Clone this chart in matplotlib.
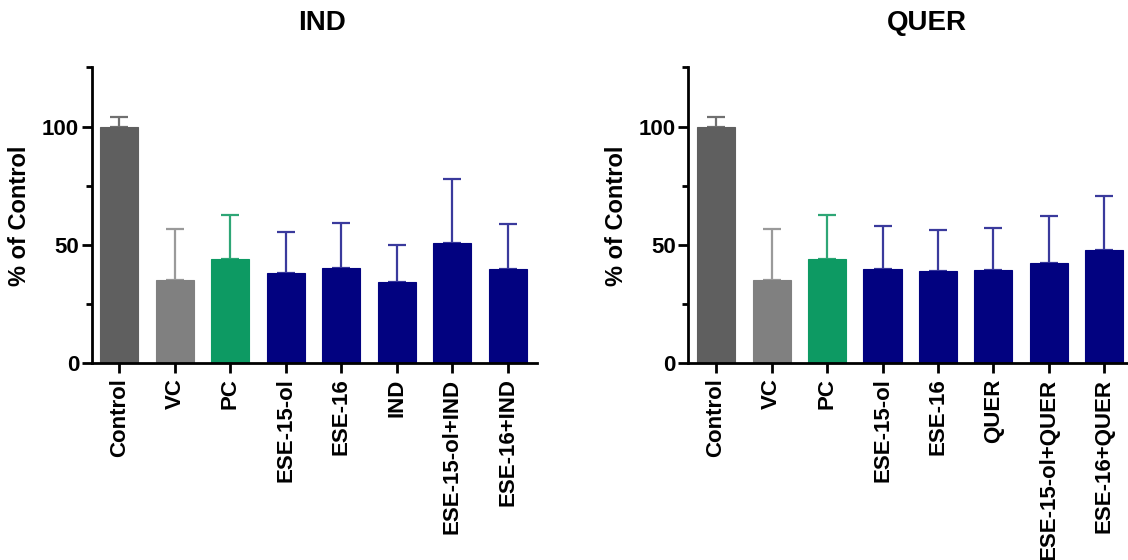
import matplotlib
matplotlib.use("Agg")
import matplotlib.pyplot as plt
from matplotlib.ticker import MultipleLocator

plt.rcParams['font.family'] = ['Liberation Sans', 'DejaVu Sans']
plt.rcParams['font.weight'] = 'bold'

cats_ind = ["Control", "VC", "PC", "ESE-15-ol", "ESE-16", "IND", "ESE-15-ol+IND", "ESE-16+IND"]
mean_ind = [100, 35.2, 44.2, 38.2, 40.1, 34.2, 50.8, 39.7]
sd_ind = [4.0, 21.4, 18.6, 17.2, 19.3, 15.8, 27.0, 19.2]

cats_quer = ["Control", "VC", "PC", "ESE-15-ol", "ESE-16", "QUER", "ESE-15-ol+QUER", "ESE-16+QUER"]
mean_quer = [100, 35.2, 44.2, 40.0, 39.0, 39.3, 42.3, 47.7]
sd_quer = [4.0, 21.4, 18.6, 18.2, 17.2, 17.9, 19.8, 23.1]

bar_colors = ["#5f5f5f", "#808080", "#0d9a63"] + ["#020280"] * 5
err_colors = ["#707070", "#9a9a9a", "#2ea676"] + ["#3a3a9c"] * 5

fig = plt.figure(figsize=(11.28, 5.6), dpi=100)

def draw(ax, cats, means, sds, title, tx):
    x = list(range(len(cats)))
    for i in x:
        ax.bar(i, means[i], width=0.685, color=bar_colors[i], edgecolor=bar_colors[i],
               linewidth=0.8, zorder=2)
        ax.errorbar(i, means[i], yerr=[[0], [sds[i]]], fmt='none', ecolor=err_colors[i],
                    elinewidth=1.6, capsize=6.5, capthick=1.6, zorder=1)
    ax.set_xlim(-0.5, 7.52)
    ax.set_ylim(0, 125)
    ax.set_xticks(x)
    ax.set_xticklabels(cats, rotation=90, fontsize=16, fontweight='bold')
    ax.set_yticks([0, 50, 100])
    ax.yaxis.set_minor_locator(MultipleLocator(25))
    ax.tick_params(axis='y', which='major', labelsize=16, length=7, width=2, pad=2)
    ax.tick_params(axis='y', which='minor', length=4, width=2)
    ax.tick_params(axis='x', which='major', length=7, width=2, pad=4)
    for lab in ax.get_yticklabels():
        lab.set_fontweight('bold')
    ax.spines['top'].set_visible(False)
    ax.spines['right'].set_visible(False)
    ax.spines['left'].set_linewidth(2)
    ax.spines['bottom'].set_linewidth(2)
    ax.set_ylabel("% of Control", fontsize=17, fontweight='bold', labelpad=8)
    fig.text(tx, 1 - 23 / 560, title, fontsize=20, fontweight='bold', ha='center', va='center')

ax1 = fig.add_axes([91.7 / 1128, 0.3512, 445 / 1128, 0.5283])
ax2 = fig.add_axes([688.3 / 1128, 0.3512, 445 / 1128, 0.5283])
draw(ax1, cats_ind, mean_ind, sd_ind, "IND", 321.5 / 1128)
draw(ax2, cats_quer, mean_quer, sd_quer, "QUER", 926.5 / 1128)

fig.savefig("out.png", dpi=100)
